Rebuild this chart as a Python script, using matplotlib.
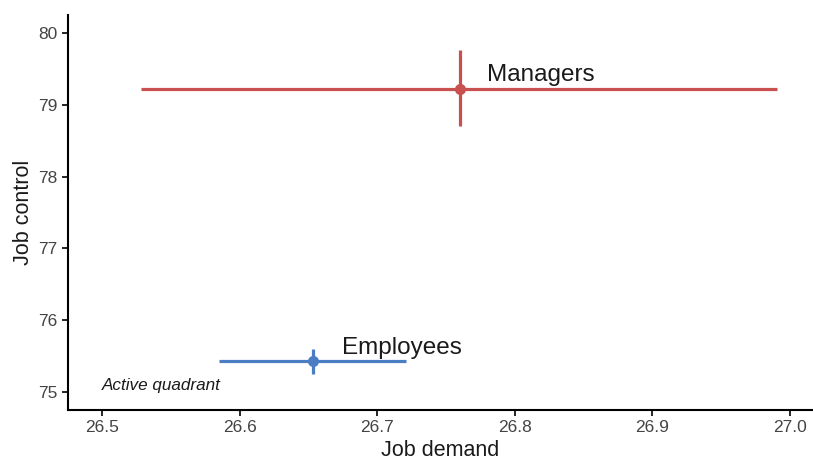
import numpy as np
import matplotlib
matplotlib.use("Agg")
import matplotlib.pyplot as plt

plt.rcParams['font.family'] = ['Liberation Sans', 'DejaVu Sans']

# Datos
groups = ["Managers", "Employees"]
demand = [26.76, 26.653]
demand_lo = [26.528, 26.585]
demand_hi = [26.991, 26.721]
control = [79.22, 75.43]
control_lo = [78.70, 75.25]
control_hi = [79.76, 75.60]
label_x = [26.78, 26.674]
label_y = [79.42, 75.62]
colors = ["#C8504F", "#4A7DC4"]

fig = plt.figure(figsize=(8.13, 4.59), dpi=100)
ax = fig.add_axes([0.0836, 0.1068, 0.9164, 0.86])

for i in range(len(groups)):
	xerr = [[demand[i] - demand_lo[i]], [demand_hi[i] - demand[i]]]
	yerr = [[control[i] - control_lo[i]], [control_hi[i] - control[i]]]
	ax.errorbar([demand[i]], [control[i]], xerr=xerr, yerr=yerr, fmt="o",
		color=colors[i], ms=7, elinewidth=2.3, capsize=0)
	ax.text(label_x[i], label_y[i], groups[i], fontsize=17.5, color="#1a1a1a",
		ha="left", va="center")

ax.text(26.5, 75.09, "Active quadrant", fontsize=12.3, style="italic",
	color="#1a1a1a", ha="left", va="center")

ax.set_xlim(26.475, 27.017)
ax.set_ylim(74.75, 80.25)
ax.set_xticks(np.arange(26.5, 27.01, 0.1))
ax.set_xticklabels(["26.5", "26.6", "26.7", "26.8", "26.9", "27.0"])
ax.set_yticks([75, 76, 77, 78, 79, 80])

ax.set_xlabel("Job demand", fontsize=15.5, color="#1a1a1a", labelpad=3)
ax.set_ylabel("Job control", fontsize=15.5, color="#1a1a1a", labelpad=3)

for s in ["top", "right"]:
	ax.spines[s].set_visible(False)
for s in ["left", "bottom"]:
	ax.spines[s].set_linewidth(1.5)
ax.tick_params(labelsize=12.5, labelcolor="#444444", length=4, width=1.2)

fig.savefig("out.png", dpi=100)
